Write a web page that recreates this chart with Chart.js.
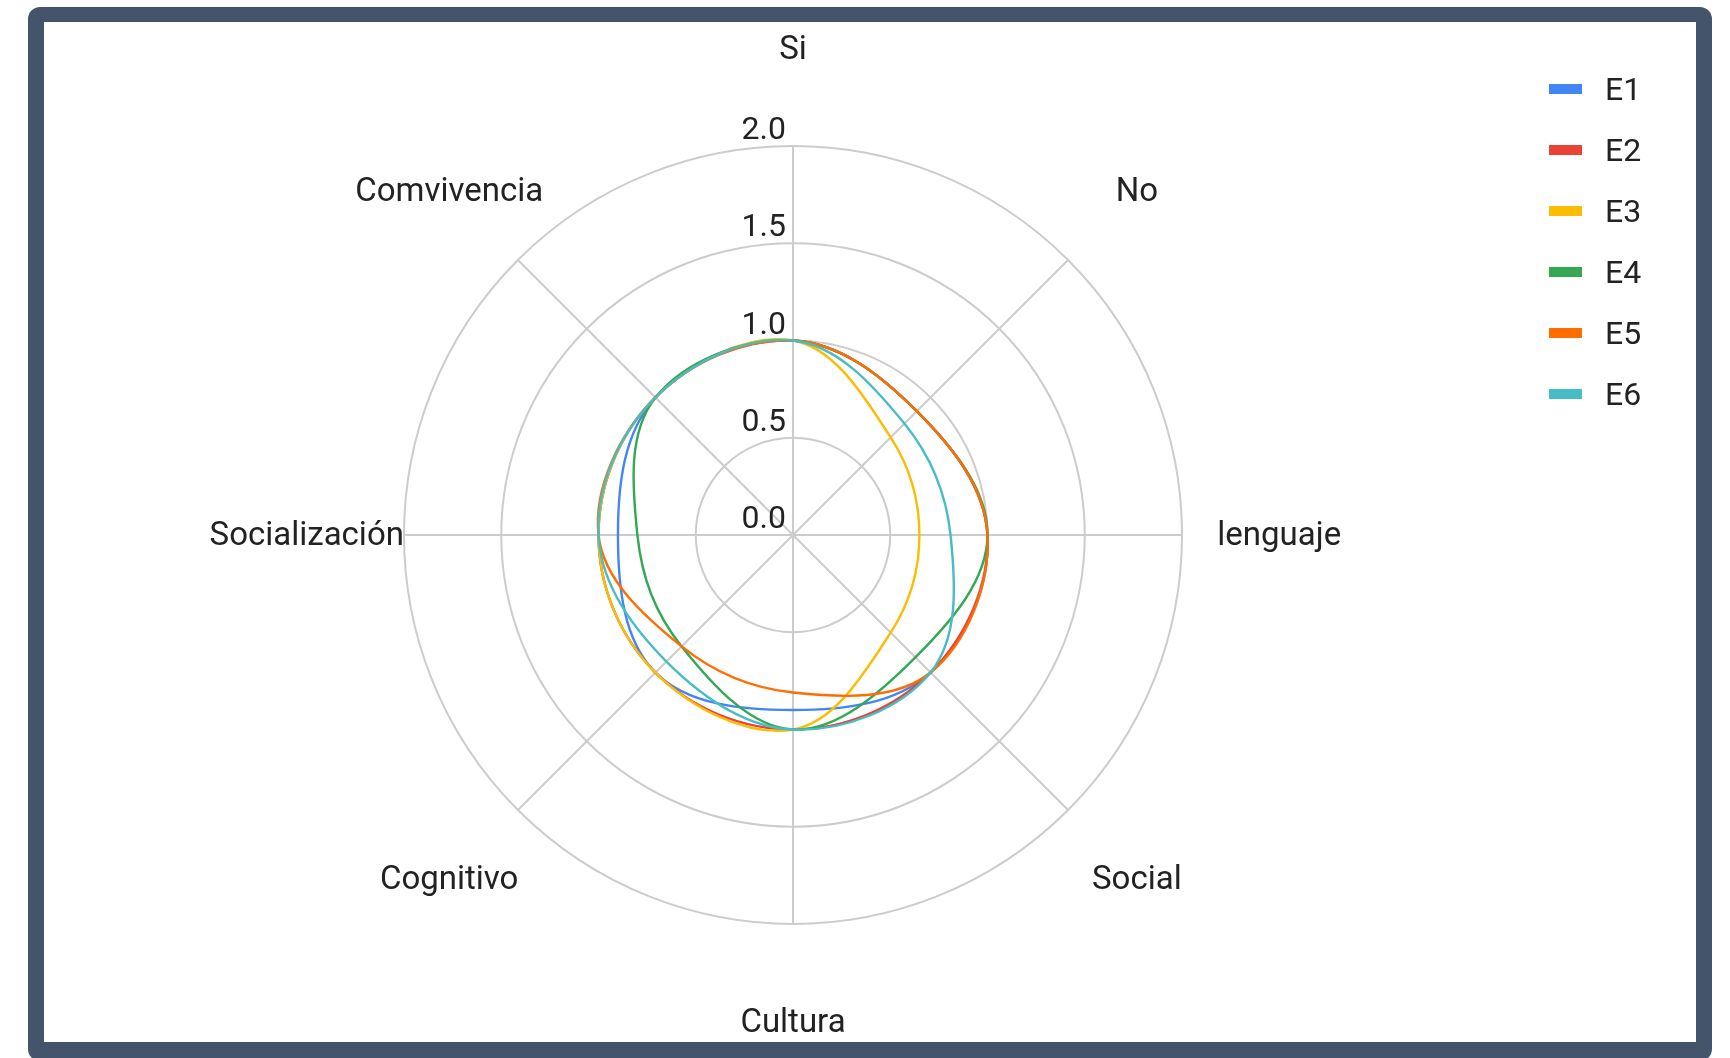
<!DOCTYPE html>
<html>
<head>
<meta charset="utf-8">
<script src="https://cdn.jsdelivr.net/npm/chart.js@4.4.1/dist/chart.umd.min.js"></script>
<style>
  html, body { margin:0; padding:0; background:#ffffff; width:1730px; height:1058px; overflow:hidden; font-family:Roboto, sans-serif; }
  #frame { position:absolute; left:28px; top:7px; width:1684px; height:1054px; background:#44546a; border-radius:12px; }
  #panel { position:absolute; left:44px; top:22px; width:1652px; height:1020px; background:#ffffff; }
  #chart { position:absolute; left:0; top:0; }
  .lg-item { position:absolute; left:1505px; height:0; }
  .lg-box { position:absolute; left:0; top:-5px; width:33px; height:10px; }
  .lg-text { position:absolute; left:56px; top:-20px; font-size:32px; line-height:40px; color:#222; white-space:nowrap; }
</style>
</head>
<body>
<div id="frame"></div>
<div id="panel">
  <canvas id="chart" width="1652" height="1020"></canvas>
  <div id="legend"></div>
</div>
<script>
// ---- data ----
const categories = ['Si', 'No', 'lenguaje', 'Social', 'Cultura', 'Cognitivo', 'Socialización', 'Comvivencia'];
const seriesNames = ['E1', 'E2', 'E3', 'E4', 'E5', 'E6'];
const E1 = [1, 0.90, 1, 1, 0.90, 1, 0.90, 1];
const E2 = [1, 0.90, 1, 1, 1, 1, 1, 1];
const E3 = [1, 0.71, 0.65, 0.71, 1, 1, 1, 1];
const E4 = [1, 0.90, 1, 0.89, 1, 0.81, 0.80, 1];
const E5 = [1, 0.90, 1, 1, 0.81, 0.81, 1, 1];
const E6 = [1, 0.81, 0.81, 1, 1, 0.92, 1, 1];
const seriesValues = [E1, E2, E3, E4, E5, E6];
const tickValues = [0, 0.5, 1.0, 1.5, 2.0];
const tickLabels = ['0.0', '0.5', '1.0', '1.5', '2.0'];
const seriesColors = ['#4285F4', '#EA4335', '#FBBC04', '#34A853', '#FF6D01', '#46BDC6'];

// ---- legend (HTML) ----
const legend = document.getElementById('legend');
seriesNames.forEach((name, i) => {
  const item = document.createElement('div');
  item.className = 'lg-item';
  item.style.top = (67.3 + i * 61) + 'px';
  const box = document.createElement('div');
  box.className = 'lg-box';
  box.style.background = seriesColors[i];
  const txt = document.createElement('div');
  txt.className = 'lg-text';
  txt.textContent = name;
  item.appendChild(box);
  item.appendChild(txt);
  legend.appendChild(item);
});

const textColor = '#222222';
const labelPlugin = {
  id: 'googleLikeLabels',
  beforeDatasetsDraw(chart) {
    const scale = chart.scales.r;
    const ctx = chart.ctx;
    ctx.save();
    ctx.fillStyle = textColor;
    ctx.font = '32px Roboto';
    ctx.textAlign = 'right';
    ctx.textBaseline = 'alphabetic';
    tickValues.forEach((v, i) => {
      const d = scale.getDistanceFromCenterForValue(v);
      ctx.fillText(tickLabels[i], scale.xCenter - 7, scale.yCenter - d - 7);
    });
    ctx.restore();
  },
  afterDraw(chart) {
    const scale = chart.scales.r;
    const ctx = chart.ctx;
    ctx.save();
    ctx.fillStyle = textColor;
    ctx.font = '33px Roboto';
    ctx.textAlign = 'center';
    ctx.textBaseline = 'middle';
    const outer = scale.getDistanceFromCenterForValue(scale.max);
    categories.forEach((label, i) => {
      const p = scale.getPointPosition(i, outer * 1.25);
      ctx.fillText(label, p.x, p.y + 2);
    });
    ctx.restore();
  }
};

function build() {
  const n = seriesNames.length;
  new Chart(document.getElementById('chart'), {
    type: 'radar',
    data: {
      labels: categories,
      datasets: seriesNames.map((name, i) => ({
        label: name,
        data: seriesValues[i],
        borderColor: seriesColors[i],
        backgroundColor: 'transparent',
        fill: false,
        borderWidth: 2.4,
        pointRadius: 0,
        pointHoverRadius: 0,
        tension: 0.37,
        order: n - 1 - i
      }))
    },
    options: {
      responsive: false,
      animation: false,
      devicePixelRatio: 1,
      layout: { padding: { left: 360, top: 124, right: 514, bottom: 118 } },
      plugins: { legend: { display: false }, tooltip: { enabled: false } },
      scales: {
        r: {
          min: 0,
          max: 2,
          ticks: { stepSize: 0.5, display: false },
          pointLabels: { display: false },
          grid: { circular: true, color: '#cccccc', lineWidth: 2 },
          angleLines: { display: true, color: '#cccccc', lineWidth: 2 }
        }
      }
    },
    plugins: [labelPlugin]
  });
}

if (document.fonts && document.fonts.load) {
  Promise.all([document.fonts.load('32px Roboto'), document.fonts.load('33px Roboto')]).then(build, build);
} else {
  build();
}
</script>
</body>
</html>
